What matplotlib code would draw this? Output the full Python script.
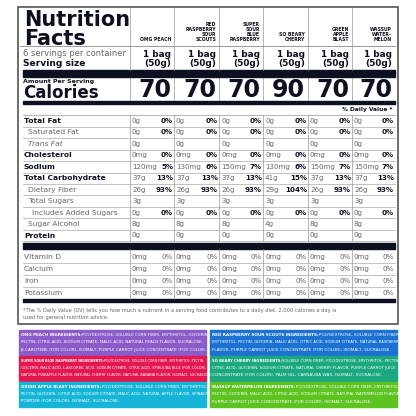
import matplotlib.pyplot as plt
from matplotlib.patches import Rectangle

flavors = ["OMG PEACH", "RED\nRASPBERRY\nSOUR\nSCOUTS", "SUPER\nSOUR\nBLUE\nRASPBERRY",
           "SO BEARY\nCHERRY", "GREEN\nAPPLE\nBLAST", "WASSUP\nWATER-\nMELON"]
calories = [70, 70, 70, 90, 70, 70]

# (label, bold, indent, italic, amounts, % daily values or None)
nutrients = [
    ("Total Fat", True, 0, False, ["0g"] * 6, ["0%"] * 6),
    ("Saturated Fat", False, 1, False, ["0g"] * 6, ["0%"] * 6),
    ("Trans Fat", False, 1, True, ["0g"] * 6, None),
    ("Cholesterol", True, 0, False, ["0mg"] * 6, ["0%"] * 6),
    ("Sodium", True, 0, False, ["120mg", "130mg", "150mg", "130mg", "150mg", "150mg"],
     ["5%", "6%", "7%", "6%", "7%", "7%"]),
    ("Total Carbohydrate", True, 0, False, ["37g", "37g", "37g", "41g", "37g", "37g"],
     ["13%", "13%", "13%", "15%", "13%", "13%"]),
    ("Dietary Fiber", False, 1, False, ["26g", "26g", "26g", "29g", "26g", "26g"],
     ["93%", "93%", "93%", "104%", "93%", "93%"]),
    ("Total Sugars", False, 1, False, ["3g"] * 6, None),
    ("Includes Added Sugars", False, 2, False, ["0g"] * 6, ["0%"] * 6),
    ("Sugar Alcohol", False, 1, False, ["8g", "8g", "8g", "4g", "8g", "8g"], None),
    ("Protein", True, 0, False, ["0g"] * 6, None),
]
vitamins = ["Vitamin D", "Calcium", "Iron", "Potassium"]
vitamin_amounts = ["0mg"] * 6
vitamin_dv = ["0%"] * 6

ingredients = [
    ("OMG PEACH INGREDIENTS:", "POLYDEXTROSE, SOLUBLE CORN FIBER, ERYTHRITOL, GLYCERIN,\nPECTIN, CITRIC ACID, SODIUM CITRATE, MALIC ACID, NATURAL PEACH FLAVOR, SUCRALOSE,\nβ-CAROTENE (FOR COLOR), ISOMALT, PURPLE CARROT JUICE CONCENTRATE (FOR COLOR).", "#8b5cc9"),
    ("RED RASPBERRY SOUR SCOUTS INGREDIENTS:", "POLYDEXTROSE, SOLUBLE CORN FIBER,\nERYTHRITOL, PECTIN, GLYCERIN, MALIC ACID, CITRIC ACID, SODIUM CITRATE, NATURAL RASPBERRY\nFLAVOR, PURPLE CARROT JUICE CONCENTRATE (FOR COLOR), ISOMALT, SUCRALOSE.", "#1b72d2"),
    ("SUPER SOUR BLUE RASPBERRY INGREDIENTS:", "POLYDEXTROSE, SOLUBLE CORN FIBER, ERYTHRITOL, PECTIN,\nGLYCERIN, MALIC ACID, L-ASCORBIC ACID, SODIUM CITRATE, CITRIC ACID, SPIRULINA BLUE (FOR COLOR),\nNATURAL PINEAPPLE FLAVOR, NATURAL CHERRY FLAVOR, NATURAL BANANA FLAVOR, ISOMALT, SUCRALOSE.", "#e2184f"),
    ("SO BEARY CHERRY INGREDIENTS:", "SOLUBLE CORN FIBER, POLYDEXTROSE, ERYTHRITOL, PECTIN,\nCITRIC ACID, GLYCERIN, SODIUM CITRATE, NATURAL CHERRY FLAVOR, PURPLE CARROT JUICE\nCONCENTRATE (FOR COLOR), PALM OIL, CARNAUBA WAX, ISOMALT, SUCRALOSE.", "#1ba77f"),
    ("GREEN APPLE BLAST INGREDIENTS:", "POLYDEXTROSE, SOLUBLE CORN FIBER, ERYTHRITOL,\nPECTIN, GLYCERIN, CITRIC ACID, SODIUM CITRATE, MALIC ACID, NATURAL APPLE FLAVOR, SPINACH\nPOWDER (FOR COLOR), ISOMALT, SUCRALOSE.", "#15b5d7"),
    ("WASSUP WATERMELON INGREDIENTS:", "POLYDEXTROSE, SOLUBLE CORN FIBER, ERYTHRITOL,\nPECTIN, GLYCERIN, MALIC ACID, CITRIC ACID, SODIUM CITRATE, NATURAL WATERMELON FLAVOR,\nPURPLE CARROT JUICE CONCENTRATE (FOR COLOR), ISOMALT, SUCRALOSE.", "#5dc320"),
]

INK = "#0d1020"
GREY = "#666666"
fig = plt.figure(figsize=(4.16, 4.16), dpi=100)
ax = fig.add_axes([0, 0, 1, 1])
ax.set_xlim(0, 416)
ax.set_ylim(416, 0)
ax.axis("off")

L, R = 20, 395
col_edges = [130, 174, 219, 263, 308, 352, 395]

ax.add_patch(Rectangle((18, 7), 380, 317, fill=False, ec="#555555", lw=1.2))

ax.text(24, 10, "Nutrition\nFacts", fontsize=15, fontweight="bold", va="top", color=INK, linespacing=0.95)
for i, name in enumerate(flavors):
    ax.text(col_edges[i + 1] - 3, 42, name, fontsize=3.3, fontweight="bold", ha="right", va="bottom",
            color=INK, linespacing=1.0)
ax.plot([L, R], [46, 46], color="#888888", lw=0.6)
for x in col_edges[:-1]:
    ax.plot([x, x], [8, 70], color="#999999", lw=0.5)
    ax.plot([x, x], [78, 100], color="#999999", lw=0.5)

ax.text(L + 3, 53, "6 servings per container", fontsize=6.0, color=GREY, va="center")
ax.text(L + 3, 64, "Serving size", fontsize=6.6, fontweight="bold", color=INK, va="center")
for i in range(6):
    ax.text(col_edges[i + 1] - 3, 59, "1 bag\n(50g)", fontsize=6.4, fontweight="bold", ha="right",
            va="center", color=INK, linespacing=0.95)

ax.add_patch(Rectangle((L + 3, 70), R - L - 3, 7, color=INK))
ax.text(L + 3, 81, "Amount Per Serving", fontsize=4.5, fontweight="bold", color=INK, va="center")
ax.text(L + 3, 93, "Calories", fontsize=12, fontweight="bold", color=INK, va="center")
for i, c in enumerate(calories):
    ax.text(col_edges[i + 1] - 3, 90, str(c), fontsize=17, fontweight="bold", ha="right", va="center",
            color=INK)
ax.add_patch(Rectangle((L + 3, 101), R - L - 3, 2.5, color=INK))
ax.text(R - 2, 109, "% Daily Value *", fontsize=4.2, fontweight="bold", ha="right", va="center", color=INK)
ax.plot([L + 3, R], [115, 115], color="#999999", lw=0.5)

row_h = 11.45
y0 = 121
for r, (label, bold, indent, italic, amts, dvs) in enumerate(nutrients):
    y = y0 + r * row_h
    ax.text(L + 4 + indent * 4, y, label, fontsize=5.4, va="center",
            fontweight="bold" if bold else "normal", style="italic" if italic else "normal",
            color=INK if bold else GREY)
    for i in range(6):
        ax.text(col_edges[i] + 2, y, amts[i], fontsize=5.1, va="center", color=GREY)
        if dvs:
            ax.text(col_edges[i + 1] - 1, y, dvs[i], fontsize=5.1, fontweight="bold", ha="right",
                    va="center", color=INK)
    ax.plot([L + 3, R], [y + row_h / 2, y + row_h / 2], color="#aaaaaa", lw=0.5)
y_prot_end = y0 + (len(nutrients) - 1) * row_h + row_h / 2
for x in col_edges[:-1]:
    ax.plot([x, x], [115, y_prot_end], color="#999999", lw=0.5)

ax.add_patch(Rectangle((L + 3, 243), R - L - 3, 6, color=INK))
vy0 = 257
for r, v in enumerate(vitamins):
    y = vy0 + r * 12
    ax.text(L + 4, y, v, fontsize=5.4, va="center", color=GREY)
    for i in range(6):
        ax.text(col_edges[i] + 2, y, vitamin_amounts[i], fontsize=5.1, va="center", color=GREY)
        ax.text(col_edges[i + 1] - 1, y, vitamin_dv[i], fontsize=5.1, ha="right", va="center", color=GREY)
    if r < len(vitamins) - 1:
        ax.plot([L + 3, R], [y + 6, y + 6], color="#aaaaaa", lw=0.5)
for x in col_edges[:-1]:
    ax.plot([x, x], [249, 299], color="#999999", lw=0.5)
ax.add_patch(Rectangle((L + 3, 299), R - L - 3, 3, color=INK))
ax.text(L + 3, 314, "*The % Daily Value (DV) tells you how much a nutrient in a serving food contributes to a daily diet. 2,000 calories a day is\nused for general nutrition advice.",
        fontsize=3.7, va="center", color=GREY, linespacing=1.3)


def fit_width(texts, avail, size):
    """Shrink the font size of a group of texts drawn side by side until they fit."""
    fig.canvas.draw()
    total = sum(t.get_window_extent().width for t in texts)
    if total > avail:
        for t in texts:
            t.set_fontsize(size * avail / total)


fig.canvas.draw()
px = ax.transData.transform((1, 0))[0] - ax.transData.transform((0, 0))[0]
boxes = [(19, 330), (210, 330), (19, 356), (210, 356), (19, 382), (210, 382)]
for (bx, by), (head, body, col) in zip(boxes, ingredients):
    bw = 187
    ax.add_patch(Rectangle((bx, by), bw, 24.5, color=col))
    lines = body.split("\n")
    size = 3.1
    t1 = ax.text(bx + 2, by + 4.5, head, fontsize=size, fontweight="bold", color="white", va="center")
    t2 = ax.text(bx + 2, by + 4.5, lines[0], fontsize=size, color="white", va="center")
    fit_width([t1, t2], (bw - 4) * px, size)
    fig.canvas.draw()
    bb = t1.get_window_extent().transformed(ax.transData.inverted())
    t2.set_x(bb.x1 + 0.5)
    for k, ln in enumerate(lines[1:]):
        t = ax.text(bx + 2, by + 12 + k * 7.5, ln, fontsize=size, color="white", va="center")
        fit_width([t], (bw - 4) * px, size)

fig.savefig("out.png", dpi=100, facecolor="white")
